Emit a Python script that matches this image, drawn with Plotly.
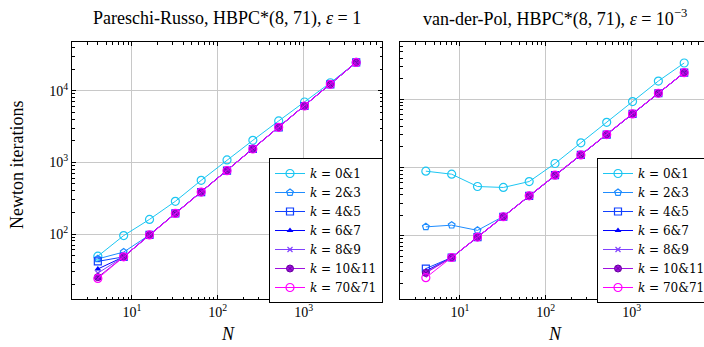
import plotly.graph_objects as go

N = [4, 8, 16, 32, 64, 128, 256, 512, 1024, 2048, 4096]

labels = ["0&amp;1", "2&amp;3", "4&amp;5", "6&amp;7", "8&amp;9", "10&amp;11", "70&amp;71"]

# Pareschi-Russo, eps = 1
pr_k01 = [49, 95, 160, 286, 561, 1080, 2030, 3780, 6950, 12900, 24800]
pr_k23 = [45, 56, 97, 194, 385, 765, 1535, 3076, 6110, 12250, 24800]
pr_k45 = [41.5, 48, 97, 194, 385, 765, 1535, 3076, 6110, 12250, 24800]
pr_k67 = [32.5, 48, 97, 194, 385, 765, 1535, 3076, 6110, 12250, 24800]
pr_k89 = [28.5, 48, 97, 194, 385, 765, 1535, 3076, 6110, 12250, 24800]
pr_k1011 = [25, 48, 97, 194, 385, 765, 1535, 3076, 6110, 12250, 24800]
pr_k7071 = [24, 48, 97, 194, 385, 765, 1535, 3076, 6110, 12250, 24800]

# van-der-Pol, eps = 1e-3
vp_k01 = [884, 798, 527, 510, 623, 1145, 2300, 4600, 9250, 18500, 34000]
vp_k23 = [135, 143, 120, 192, 385, 773, 1530, 3040, 6100, 12240, 24550]
vp_k45 = [33, 48, 95.5, 190, 385, 773, 1530, 3040, 6100, 12240, 24550]
vp_k67 = [30.5, 48, 95.5, 190, 385, 773, 1530, 3040, 6100, 12240, 24550]
vp_k89 = [29.5, 48, 95.5, 190, 385, 773, 1530, 3040, 6100, 12240, 24550]
vp_k1011 = [28.5, 48, 95.5, 190, 385, 773, 1530, 3040, 6100, 12240, 24550]
vp_k7071 = [24.3, 48, 95.5, 190, 385, 773, 1530, 3040, 6100, 12240, 24550]

pr_series = [pr_k01, pr_k23, pr_k45, pr_k67, pr_k89, pr_k1011, pr_k7071]
vp_series = [vp_k01, vp_k23, vp_k45, vp_k67, vp_k89, vp_k1011, vp_k7071]

colors = ["#1cc6f2", "#1e8cff", "#1040ff", "#0000ff", "#8040ff", "#a010e0", "#ff00ff"]
styles = [
    dict(symbol="circle-open", size=8, line=dict(width=1.2)),
    dict(symbol="pentagon-open", size=7, line=dict(width=1.2)),
    dict(symbol="square-open", size=7, line=dict(width=1.2)),
    dict(symbol="triangle-up", size=6, line=dict(width=0)),
    dict(symbol="x-thin", size=5, line=dict(width=1.2)),
    dict(symbol="circle-x", size=7, line=dict(width=1, color="#6a00a0")),
    dict(symbol="circle-open", size=8, line=dict(width=1.2)),
]

FONT = "Liberation Serif"
LFONT = "DejaVu Serif"
fig = go.Figure()

for series, xa, ya, leg in [(pr_series, "x", "y", "legend"), (vp_series, "x2", "y2", "legend2")]:
    for i, ys in enumerate(series):
        m = dict(styles[i])
        m["color"] = colors[i]
        if "line" in m and "color" not in m["line"]:
            m["line"] = dict(m["line"], color=colors[i])
        fig.add_trace(go.Scatter(
            x=N, y=ys, mode="lines+markers", xaxis=xa, yaxis=ya,
            name="<i>k</i> = " + labels[i],
            line=dict(color=colors[i], width=1),
            marker=m, legend=leg,
        ))

W, H = 704, 347
axis_common = dict(
    type="log", showline=True, linecolor="black", linewidth=1,
    ticks="inside", ticklen=4, tickcolor="black", tickwidth=1,
    showgrid=True, gridcolor="#c8c8c8", gridwidth=1, zeroline=False,
    tickfont=dict(family=FONT, size=14, color="black"),
    minor=dict(ticks="inside", ticklen=2.5, tickcolor="black", tickwidth=0.8, showgrid=False, dtick="D1"),
)
xt = dict(tickmode="array", tickvals=[10, 100, 1000],
          ticktext=["10<sup>1</sup>", "10<sup>2</sup>", "10<sup>3</sup>"])
yt = dict(tickmode="array", tickvals=[100, 1000, 10000],
          ticktext=["10<sup>2</sup>", "10<sup>3</sup>", "10<sup>4</sup>"])

y0 = (H - 299.3) / H
y1 = (H - 42) / H

leg_common = dict(xanchor="left", yanchor="top", bordercolor="black", borderwidth=1,
                  bgcolor="white", font=dict(family=LFONT, size=12), itemwidth=30,
                  tracegroupgap=0)

fig.update_layout(
    width=W, height=H, margin=dict(l=0, r=0, t=0, b=0, autoexpand=False),
    paper_bgcolor="white", plot_bgcolor="white",
    font=dict(family=FONT, color="black"),
    xaxis=dict(axis_common, **xt, domain=[72 / W, 382 / W], range=[0.301, 3.913], mirror="allticks", anchor="y"),
    yaxis=dict(axis_common, **yt, domain=[y0, y1], range=[1.089, 4.679], mirror="allticks", anchor="x"),
    xaxis2=dict(axis_common, **xt, domain=[400 / W, 1.0], range=[0.301, 3.843], mirror="allticks", anchor="y2"),
    yaxis2=dict(axis_common, **yt, domain=[y0, y1], range=[1.069, 4.839], mirror=False, anchor="x2",
                showticklabels=False),
    legend=dict(leg_common, x=269 / W, y=(H - 158) / H),
    legend2=dict(leg_common, x=597 / W, y=(H - 158) / H),
    showlegend=True,
)

ann = dict(xref="paper", yref="paper", showarrow=False, xanchor="center", yanchor="middle")
fig.add_annotation(ann, text="Pareschi-Russo, HBPC*(8, 71), <i>ε</i> = 1", x=227 / W, y=(H - 18) / H,
                   font=dict(family=FONT, size=18))
fig.add_annotation(ann, text="van-der-Pol, HBPC*(8, 71), <i>ε</i> = 10<sup>−3</sup>", x=555 / W, y=(H - 18) / H,
                   font=dict(family=FONT, size=18))
fig.add_annotation(ann, text="Newton iterations", x=17 / W, y=(H - 165) / H, textangle=-90,
                   font=dict(family=FONT, size=18))
fig.add_annotation(ann, text="<i>N</i>", x=228 / W, y=(H - 334) / H, font=dict(family=FONT, size=18))
fig.add_annotation(ann, text="<i>N</i>", x=555 / W, y=(H - 334) / H, font=dict(family=FONT, size=18))

fig.write_html("out.html", post_script="document.body.style.margin='0px';",
               config={"displayModeBar": False})
